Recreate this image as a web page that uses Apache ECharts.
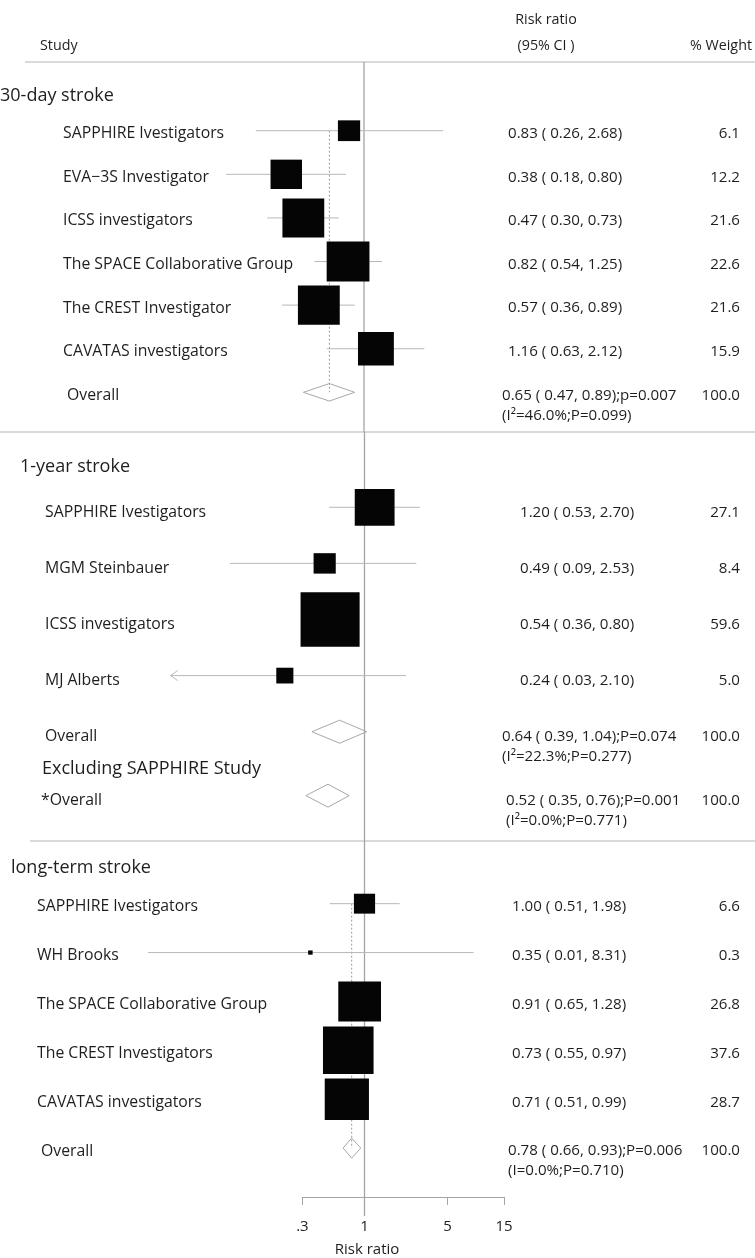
<!DOCTYPE html>
<html>
<head>
<meta charset="utf-8">
<script src="https://cdn.jsdelivr.net/npm/echarts@6/dist/echarts.min.js"></script>
<style>
  html, body { margin: 0; padding: 0; background: #ffffff; }
  #chart { width: 755px; height: 1258px; }
</style>
</head>
<body>
<div id="chart"></div>
<script>
// ---- 30-day stroke ----
const day30Studies = ['SAPPHIRE Ivestigators', 'EVA\u22123S Investigator', 'ICSS investigators',
  'The SPACE Collaborative Group', 'The CREST Investigator', 'CAVATAS investigators'];
const day30RR = [0.83, 0.38, 0.47, 0.82, 0.57, 1.16];
const day30Lo = [0.26, 0.18, 0.30, 0.54, 0.36, 0.63];
const day30Hi = [2.68, 0.80, 0.73, 1.25, 0.89, 2.12];
const day30Weight = [6.1, 12.2, 21.6, 22.6, 21.6, 15.9];
const day30Pooled = [0.65, 0.47, 0.89];
const day30PooledP = 'p=0.007';
const day30Het = ['46.0%', '0.099'];

// ---- 1-year stroke ----
const year1Studies = ['SAPPHIRE Ivestigators', 'MGM Steinbauer', 'ICSS investigators', 'MJ Alberts'];
const year1RR = [1.20, 0.49, 0.54, 0.24];
const year1Lo = [0.53, 0.09, 0.36, 0.03];
const year1Hi = [2.70, 2.53, 0.80, 2.10];
const year1Weight = [27.1, 8.4, 59.6, 5.0];
const year1Pooled = [0.64, 0.39, 1.04];
const year1PooledP = 'P=0.074';
const year1Het = ['22.3%', '0.277'];
const year1ExclPooled = [0.52, 0.35, 0.76];
const year1ExclPooledP = 'P=0.001';
const year1ExclHet = ['0.0%', '0.771'];

// ---- long-term stroke ----
const longStudies = ['SAPPHIRE Ivestigators', 'WH Brooks', 'The SPACE Collaborative Group',
  'The CREST Investigators', 'CAVATAS investigators'];
const longRR = [1.00, 0.35, 0.91, 0.73, 0.71];
const longLo = [0.51, 0.01, 0.65, 0.55, 0.51];
const longHi = [1.98, 8.31, 1.28, 0.97, 0.99];
const longWeight = [6.6, 0.3, 26.8, 37.6, 28.7];
const longPooled = [0.78, 0.66, 0.93];
const longPooledP = 'P=0.006';
const longHet = ['0.0%', '0.710'];

// ---- bottom axis ----
const axisTickValues = [0.3, 1, 5, 15];
const axisTickLabels = ['.3', '1', '5', '15'];

const FONT = '"Open Sans", "Noto Sans", sans-serif';
const INK = '#1e1e1e';
const RULE = '#b3b3b3';
const CI_GRAY = '#b8b8b8';
const DIAMOND_GRAY = '#a8a8a8';
const REF_GRAY = '#a4a4a4';
const LABEL_SIZE = 15.8;
const NUM_SIZE = 15.1;
const TITLE_SIZE = 18;
const HEAD_SIZE = 14.3;

const KIND_STUDY = 0, KIND_POOLED = 1, KIND_DOTTED = 2, KIND_REF = 3;

const fmt2 = v => v.toFixed(2);
const ciText = (rr, lo, hi) => `${fmt2(rr)} ( ${fmt2(lo)}, ${fmt2(hi)})`;
const hetText = (h, sup) => `(I${sup ? '\u00b2' : ''}=${h[0]};P=${h[1]})`;

// Panel layout: each panel is its own grid with its own log scale
const panels = [
  {
    studies: day30Studies, rr: day30RR, lo: day30Lo, hi: day30Hi, w: day30Weight,
    pooled: [{ label: 'Overall', est: day30Pooled, p: day30PooledP, het: day30Het, sup: true, row: 6, labelX: 67, ciX: 502 }],
    grid: { left: 179, top: 62, width: 370, height: 370 },
    xMin: 0.1, xMax: 10, yMin: -1.576, yMax: 6.91,
    box: [9.0, 8.4], diamondH: 17.5, dotted: true, arrow: false, refExtend: 0,
    labelX: 63, ciX: 508, textDy: 3
  },
  {
    studies: year1Studies, rr: year1RR, lo: year1Lo, hi: year1Hi, w: year1Weight,
    pooled: [
      { label: 'Overall', est: year1Pooled, p: year1PooledP, het: year1Het, sup: true, row: 4, labelX: 45, ciX: 502 },
      { label: '*Overall', est: year1ExclPooled, p: year1ExclPooledP, het: year1ExclHet, sup: true, row: 5.14, labelX: 41, ciX: 506 }
    ],
    grid: { left: 170.6, top: 432, width: 322.4, height: 409 },
    xMin: 0.031, xMax: 10, yMin: -1.342, yMax: 5.948,
    box: [7.65, 7.05], diamondH: 23, dotted: false, arrow: true, refExtend: 0,
    labelX: 45, ciX: 520, textDy: 5
  },
  {
    studies: longStudies, rr: longRR, lo: longLo, hi: longHi, w: longWeight,
    pooled: [{ label: 'Overall', est: longPooled, p: longPooledP, het: longHet, sup: false, row: 5, labelX: 41, ciX: 508 }],
    grid: { left: 148.0, top: 841, width: 335.2, height: 356 },
    xMin: 0.015, xMax: 10, yMin: -1.282, yMax: 6.0,
    box: [8.25, 7.75], diamondH: 20, dotted: true, arrow: false, refExtend: 19,
    labelX: 37, ciX: 512, textDy: 3
  }
];

function markData(p) {
  const data = [[1, 1, 1, 0, 0, KIND_REF]];
  if (p.dotted) {
    const e = p.pooled[0].est;
    data.push([e[0], e[0], e[0], 0, p.pooled[0].row, KIND_DOTTED]);
  }
  p.rr.forEach((v, i) => data.push([p.lo[i], p.hi[i], v, p.w[i], i, KIND_STUDY]));
  p.pooled.forEach(q => data.push([q.est[1], q.est[2], q.est[0], 0, q.row, KIND_POOLED]));
  return data;
}

function markRenderer(p) {
  return function (params, api) {
    const cs = params.coordSys;
    const kind = api.value(5);
    const row = api.value(4);
    if (kind === KIND_REF) {
      const x = api.coord([1, 0])[0];
      return { type: 'line', shape: { x1: x, y1: cs.y, x2: x, y2: cs.y + cs.height + p.refExtend },
        style: { stroke: REF_GRAY, lineWidth: 1.3 } };
    }
    const pLo = api.coord([api.value(0), row]);
    const pHi = api.coord([api.value(1), row]);
    const pC = api.coord([api.value(2), row]);
    const y = pC[1];
    if (kind === KIND_DOTTED) {
      const top = api.coord([api.value(2), 0])[1];
      return { type: 'line', shape: { x1: pC[0], y1: top, x2: pC[0], y2: y },
        style: { stroke: '#9a9a9a', lineWidth: 1, lineDash: [2, 2] } };
    }
    if (kind === KIND_POOLED) {
      const h = p.diamondH / 2;
      return { type: 'polygon',
        shape: { points: [[pLo[0], y], [pC[0], y - h], [pHi[0], y], [pC[0], y + h]] },
        style: { fill: 'none', stroke: DIAMOND_GRAY, lineWidth: 1 } };
    }
    const left = cs.x, right = cs.x + cs.width;
    const x1 = Math.max(pLo[0], left), x2 = Math.min(pHi[0], right);
    const children = [
      { type: 'line', shape: { x1, y1: y, x2, y2: y }, style: { stroke: CI_GRAY, lineWidth: 1 } }
    ];
    if (p.arrow && pLo[0] < left) {
      children.push({ type: 'polyline', shape: { points: [[left + 7, y - 5], [left, y], [left + 7, y + 5]] },
        style: { stroke: CI_GRAY, lineWidth: 1, fill: 'none' } });
    }
    const s = Math.sqrt(api.value(3));
    const bw = p.box[0] * s, bh = p.box[1] * s;
    children.push({ type: 'rect', shape: { x: pC[0] - bw / 2, y: y - bh / 2, width: bw, height: bh },
      style: { fill: '#050505' } });
    return { type: 'group', children };
  };
}

function textRows(p) {
  const rows = p.studies.map((name, i) => ({
    row: i, label: name, labelX: p.labelX,
    ci: ciText(p.rr[i], p.lo[i], p.hi[i]), ciX: p.ciX, weight: p.w[i].toFixed(1)
  }));
  p.pooled.forEach(q => rows.push({
    row: q.row, label: q.label, labelX: q.labelX,
    ci: ciText(q.est[0], q.est[1], q.est[2]) + ';' + q.p, ciX: q.ciX, weight: (100).toFixed(1),
    het: hetText(q.het, q.sup)
  }));
  return rows;
}

function txt(s, x, y, align, size) {
  return { type: 'text', style: { text: s, x, y, font: `${size}px ${FONT}`, fill: INK,
    align, verticalAlign: 'middle', textAlign: align, textVerticalAlign: 'middle' } };
}

function textRenderer(p, rows) {
  return function (params, api) {
    const r = rows[params.dataIndex];
    const y = api.coord([1, r.row])[1] + p.textDy;
    const children = [
      txt(r.label, r.labelX, y, 'left', LABEL_SIZE),
      txt(r.ci, r.ciX, y, 'left', NUM_SIZE),
      txt(r.weight, 740, y, 'right', NUM_SIZE)
    ];
    if (r.het) children.push(txt(r.het, r.ciX, y + 20, 'left', NUM_SIZE));
    return { type: 'group', children };
  };
}

const grids = panels.map(p => Object.assign({ outerBoundsMode: 'none', containLabel: false }, p.grid));
// axis-only grid sharing the long-term panel scale
grids.push({ outerBoundsMode: 'none', containLabel: false, left: 302.4, top: 841, width: 201.7, height: 356 });

const xAxes = panels.map((p, i) => ({
  type: 'log', logBase: 10, gridIndex: i, min: p.xMin, max: p.xMax, show: false
}));
xAxes.push({
  type: 'log', logBase: 10, gridIndex: 3, min: axisTickValues[0], max: axisTickValues[axisTickValues.length - 1],
  position: 'bottom',
  axisLine: { show: true, lineStyle: { color: REF_GRAY, width: 1 } },
  axisTick: { show: true, length: 8, customValues: axisTickValues, lineStyle: { color: REF_GRAY, width: 1 } },
  axisLabel: {
    customValues: axisTickValues, margin: 22, color: INK, fontSize: 15, fontFamily: FONT,
    formatter: v => {
      const k = axisTickValues.findIndex(t => Math.abs(t - v) < 1e-6);
      return k >= 0 ? axisTickLabels[k] : '';
    }
  },
  splitLine: { show: false }
});

const yAxes = panels.map((p, i) => ({
  type: 'value', gridIndex: i, min: p.yMin, max: p.yMax, inverse: true, show: false
}));
yAxes.push({ type: 'value', gridIndex: 3, min: 0, max: 1, show: false });

const series = [];
panels.forEach((p, i) => {
  series.push({
    type: 'custom', xAxisIndex: i, yAxisIndex: i, silent: true,
    encode: { x: [0, 1, 2], y: 4 },
    renderItem: markRenderer(p), data: markData(p), z: 2
  });
  const rows = textRows(p);
  series.push({
    type: 'custom', xAxisIndex: i, yAxisIndex: i, silent: true,
    encode: { x: 0, y: 1 },
    renderItem: textRenderer(p, rows), data: rows.map(r => [1, r.row]), z: 3
  });
});

function gtext(s, x, y, size, align) {
  return { type: 'text', x, y, silent: true,
    style: { text: s, font: `${size}px ${FONT}`, fill: INK, textAlign: align || 'left', textVerticalAlign: 'middle',
      align: align || 'left', verticalAlign: 'middle' } };
}
function hrule(x1, x2, y) {
  return { type: 'line', silent: true, shape: { x1, y1: y, x2, y2: y }, style: { stroke: RULE, lineWidth: 1 } };
}

const graphic = [
  gtext('Risk ratio', 546, 20, HEAD_SIZE, 'center'),
  gtext('Study', 40, 46, HEAD_SIZE),
  gtext('(95% CI )', 546, 46, HEAD_SIZE, 'center'),
  gtext('% Weight', 690, 46, HEAD_SIZE),
  hrule(25, 755, 62),
  gtext('30-day stroke', 0, 96, TITLE_SIZE),
  hrule(0, 755, 432),
  gtext('1-year stroke', 20, 467, TITLE_SIZE),
  gtext('Excluding SAPPHIRE Study', 42, 769, TITLE_SIZE),
  hrule(30, 755, 841),
  gtext('long-term stroke', 11, 868, TITLE_SIZE),
  gtext('Risk ratio', 367, 1250, 15, 'center')
];

const chart = echarts.init(document.getElementById('chart'), null, { renderer: 'canvas' });
chart.setOption({
  animation: false,
  backgroundColor: '#ffffff',
  grid: grids,
  xAxis: xAxes,
  yAxis: yAxes,
  series,
  graphic
});
</script>
</body>
</html>
